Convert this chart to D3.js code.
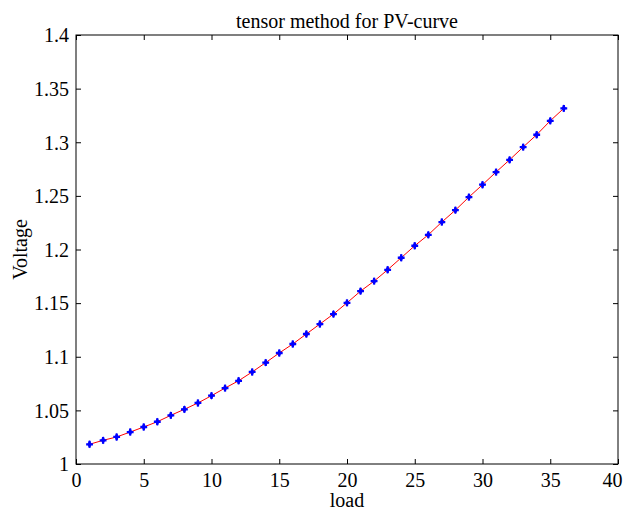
<!DOCTYPE html>
<html lang="en">
<head>
<meta charset="UTF-8">
<title>tensor method for PV-curve</title>
<style>
    html, body { margin: 0; padding: 0; background: #fff; }
    svg text { font-family: "Liberation Serif", "Times New Roman", serif; fill: #000; }
</style>
</head>
<body>
<div id="chart"></div>
<script src="https://d3js.org/d3.v7.min.js"></script>
<script>
// load steps and voltage
const loadSteps = d3.range(1, 37);
const voltage = [
    1.0184, 1.0221, 1.0252, 1.0298, 1.0345, 1.0394, 1.0454, 1.0510, 1.0569, 1.0637,
    1.0708, 1.0776, 1.0858, 1.0945, 1.1035, 1.1119, 1.1212, 1.1305, 1.1398, 1.1503,
    1.1612, 1.1705, 1.1811, 1.1923, 1.2035, 1.2137, 1.2256, 1.2367, 1.2489, 1.2604,
    1.2722, 1.2836, 1.2955, 1.3070, 1.3200, 1.3316
];
const xTicks = [0, 5, 10, 15, 20, 25, 30, 35, 40];
const yTicks = [1, 1.05, 1.1, 1.15, 1.2, 1.25, 1.3, 1.35, 1.4];

const W = 623, H = 510;
const margin = { top: 35, right: 5, bottom: 46, left: 76 };
const width = W - margin.left - margin.right;
const height = H - margin.top - margin.bottom;

const svg = d3.select("#chart").append("svg")
    .attr("width", W)
    .attr("height", H);

const g = svg.append("g")
    .attr("transform", `translate(${margin.left},${margin.top})`);

const x = d3.scaleLinear().domain([0, 40]).range([0, width]);
const y = d3.scaleLinear().domain([1, 1.4]).range([height, 0]);

const fmt = d => String(+d.toFixed(2));

// bottom axis with labels, ticks pointing in
const xAxis = g.append("g")
    .attr("transform", `translate(0,${height})`)
    .call(d3.axisBottom(x).tickValues(xTicks).tickFormat(fmt).tickSizeInner(-5).tickSizeOuter(0));
xAxis.selectAll("text").attr("y", 23).attr("dy", null).style("font-size", "20px");
// last label would run off the page, keep it inside like the reference
xAxis.selectAll(".tick").filter(d => d === 40).select("text")
    .attr("text-anchor", "end")
    .attr("x", 4);

// left axis with labels
const yAxis = g.append("g")
    .call(d3.axisLeft(y).tickValues(yTicks).tickFormat(fmt).tickSizeInner(-5).tickSizeOuter(0));
yAxis.selectAll("text").attr("x", -7).attr("dy", "0.34em").style("font-size", "20px");

// top and right ticks only
g.append("g")
    .call(d3.axisTop(x).tickValues(xTicks).tickFormat("").tickSizeInner(-5).tickSizeOuter(0));
g.append("g")
    .attr("transform", `translate(${width},0)`)
    .call(d3.axisRight(y).tickValues(yTicks).tickFormat("").tickSizeInner(-5).tickSizeOuter(0));

g.selectAll(".domain").remove();
g.selectAll(".tick line").attr("stroke", "#000");

// box
g.append("rect")
    .attr("width", width)
    .attr("height", height)
    .attr("fill", "none")
    .attr("stroke", "#000")
    .attr("stroke-width", 1);

const pts = loadSteps.map((d, i) => ({ load: d, v: voltage[i] }));

g.append("path")
    .datum(pts)
    .attr("fill", "none")
    .attr("stroke", "#ff0000")
    .attr("stroke-width", 1)
    .attr("d", d3.line().x(d => x(d.load)).y(d => y(d.v)));

const marks = g.selectAll(".pt")
    .data(pts)
    .enter()
    .append("g")
    .attr("class", "pt")
    .attr("transform", d => `translate(${x(d.load)},${y(d.v)})`);
marks.append("path")
    .attr("d", d3.symbol(d3.symbolDiamond, 18))
    .attr("fill", "#0000ff");
marks.append("path")
    .attr("d", d3.symbol(d3.symbolCross, 26))
    .attr("fill", "#0000ff");

// texts
svg.append("text")
    .attr("x", margin.left + width / 2)
    .attr("y", 28)
    .attr("text-anchor", "middle")
    .style("font-size", "20px")
    .text("tensor method for PV-curve");

svg.append("text")
    .attr("x", margin.left + width / 2)
    .attr("y", 507)
    .attr("text-anchor", "middle")
    .style("font-size", "20px")
    .text("load");

svg.append("text")
    .attr("transform", `translate(27,${margin.top + height / 2}) rotate(-90)`)
    .attr("text-anchor", "middle")
    .style("font-size", "20px")
    .text("Voltage");
</script>
</body>
</html>
